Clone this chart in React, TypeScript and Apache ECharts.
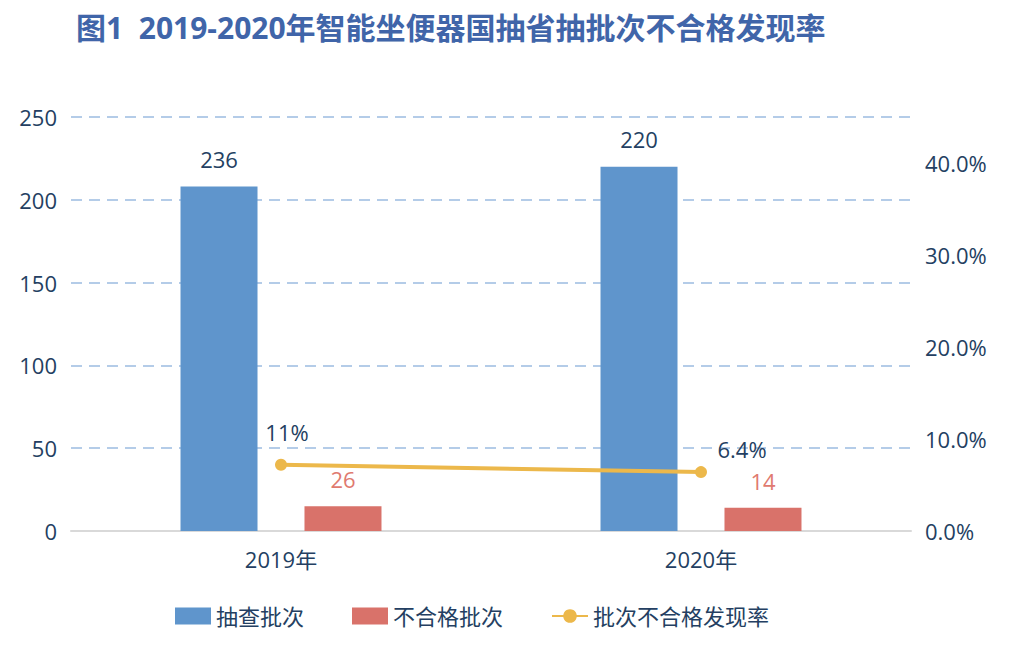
import React, { useEffect, useRef } from "react";
import * as echarts from "echarts";

const categories = ["2019年", "2020年"];
// bar heights as drawn
const sampledValues = [208, 220];
const failedValues = [15, 14];
const rateValues = [0.072, 0.064];
// label texts as printed in the figure
const sampledLabels = ["236", "220"];
const failedLabels = ["26", "14"];
const rateLabels = ["11%", "6.4%"];
const leftTicks = { min: 0, max: 250, interval: 50 };
const rightTicks = { min: 0, max: 0.45, interval: 0.1 };

const FONT = "'Open Sans', 'Noto Sans CJK SC', sans-serif";
const TEXT = "#243f62";

export default function App() {
  const ref = useRef<HTMLDivElement>(null);
  useEffect(() => {
    document.body.style.margin = "0";
    const chart = echarts.init(ref.current!, null, { renderer: "svg" });
    chart.setOption({
      animation: false,
      backgroundColor: "#ffffff",
      textStyle: { fontFamily: FONT },
      title: {
        text: "图1  2019-2020年智能坐便器国抽省抽批次不合格发现率",
        left: 71,
        top: 7,
        textStyle: { color: "#4065a9", fontSize: 30, fontWeight: "bold", fontFamily: FONT },
      },
      legend: {
        left: 170,
        top: 600,
        itemWidth: 36,
        itemHeight: 17,
        itemGap: 48,
        textStyle: { color: TEXT, fontSize: 22, fontFamily: FONT },
        data: [
          { name: "抽查批次", icon: "rect" },
          { name: "不合格批次", icon: "rect" },
          { name: "批次不合格发现率" },
        ],
      },
      grid: { left: 71, right: 101, top: 117, bottom: 127 },
      xAxis: {
        type: "category",
        data: categories,
        axisLine: { lineStyle: { color: "#d9d9d9", width: 2 } },
        axisTick: { show: false },
        axisLabel: { color: TEXT, fontSize: 22, margin: 17, fontFamily: FONT },
      },
      yAxis: [
        {
          type: "value",
          min: leftTicks.min,
          max: leftTicks.max,
          interval: leftTicks.interval,
          axisLine: { show: false },
          axisTick: { show: false },
          axisLabel: { color: TEXT, fontSize: 22, margin: 14, fontFamily: FONT },
          splitLine: { lineStyle: { color: "#b4cce8", type: [11, 7], width: 2 } },
        },
        {
          type: "value",
          min: rightTicks.min,
          max: rightTicks.max,
          interval: rightTicks.interval,
          axisLine: { show: false },
          axisTick: { show: false },
          splitLine: { show: false },
          axisLabel: {
            color: TEXT,
            fontSize: 22,
            margin: 14,
            fontFamily: FONT,
            showMaxLabel: false,
            formatter: (v: number) => (v * 100).toFixed(1) + "%",
          },
        },
      ],
      series: [
        {
          name: "抽查批次",
          type: "bar",
          data: sampledValues,
          barWidth: 77,
          barGap: "61%",
          itemStyle: { color: "#5f95cc" },
          label: {
            show: true,
            position: "top",
            distance: 17,
            color: TEXT,
            fontSize: 22,
            fontFamily: FONT,
            formatter: (p: any) => sampledLabels[p.dataIndex],
          },
        },
        {
          name: "不合格批次",
          type: "bar",
          data: failedValues,
          barWidth: 77,
          itemStyle: { color: "#d9726a" },
          label: {
            show: true,
            position: "top",
            distance: 16,
            color: "#e07a6f",
            fontSize: 22,
            fontFamily: FONT,
            formatter: (p: any) => failedLabels[p.dataIndex],
          },
        },
        {
          name: "批次不合格发现率",
          type: "line",
          yAxisIndex: 1,
          symbol: "circle",
          symbolSize: 12,
          itemStyle: { color: "#ecb84b" },
          lineStyle: { color: "#ecb84b", width: 4 },
          data: rateValues.map((v, i) => ({
            value: v,
            label: {
              show: true,
              position: "top",
              distance: 5,
              offset: i === 0 ? [6, -11] : [41, -1],
              color: TEXT,
              fontSize: 22,
              fontFamily: FONT,
              formatter: () => rateLabels[i],
            },
          })),
        },
      ],
    });
    return () => chart.dispose();
  }, []);
  return <div ref={ref} style={{ width: 1012, height: 658 }} />;
}
